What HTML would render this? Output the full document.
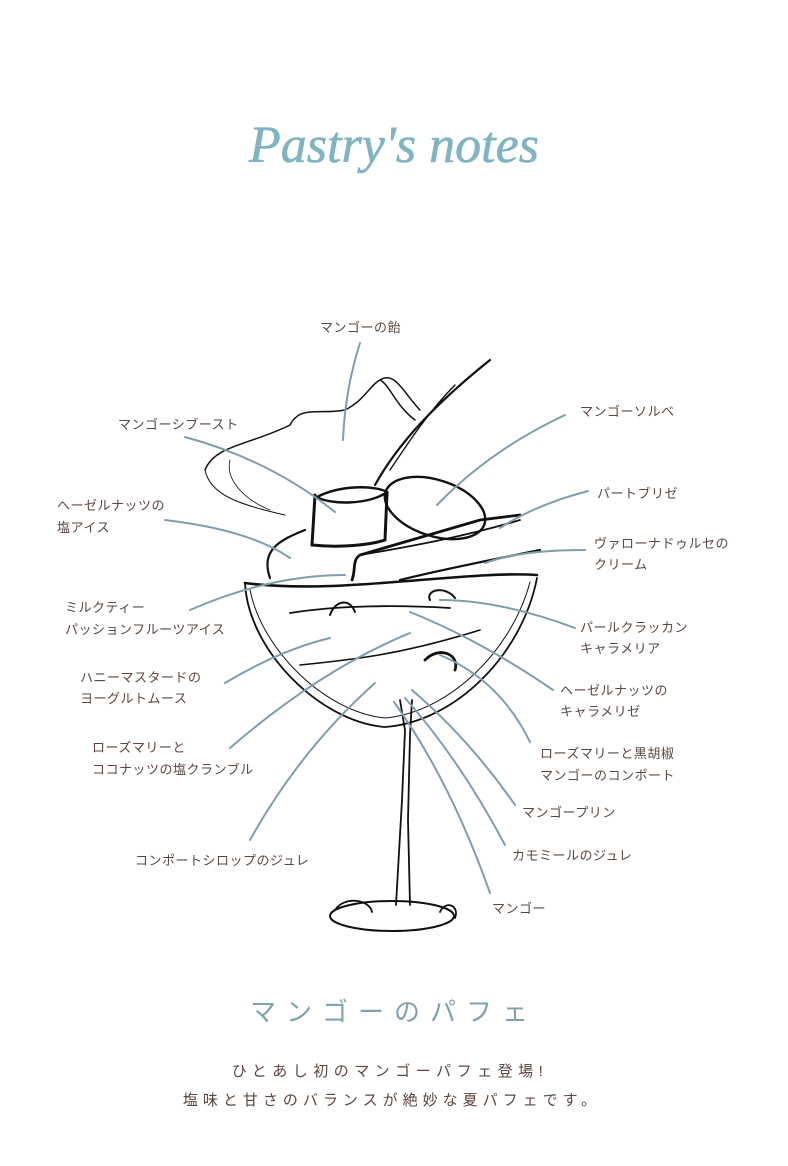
<!DOCTYPE html>
<html><head><meta charset="utf-8"><style>
html,body{margin:0;padding:0;background:#fff;}
body{width:788px;height:1166px;position:relative;overflow:hidden;font-family:"Liberation Sans","Noto Sans CJK JP",sans-serif;}
svg{position:absolute;left:0;top:0;}
.t{font-family:"Liberation Sans","Noto Sans CJK JP",sans-serif;font-size:13px;fill:#5a4840;letter-spacing:0.5px;}
</style></head><body>
<svg width="788" height="1166" viewBox="0 0 788 1166">
<text x="394" y="162" text-anchor="middle" font-family="'Liberation Serif',serif" font-style="italic" font-size="52" fill="#80b4c0" stroke="#80b4c0" stroke-width="0.6">Pastry's notes</text>

<!-- sketch -->
<g fill="none" stroke="#111" stroke-linecap="round">
<path d="M245,583 C248,650 320,722 385,727 C455,722 522,655 537,578" stroke-width="1.8"/>
<path d="M250,590 C262,650 325,712 385,718 C450,712 512,650 530,582" stroke-width="1"/>
<path d="M245,583 C300,590 360,585 420,580 C470,576 510,573 537,575" stroke-width="2.6"/>
<path d="M290,613 C340,605 400,605 450,608" stroke-width="1.8"/>
<path d="M300,665 C350,660 400,655 480,630" stroke-width="1.6"/>
<path d="M315,495 L312,545 C340,548 370,545 385,540 L387,493" stroke-width="3"/>
<path d="M317,497 C340,485 375,485 387,492 C370,505 330,505 317,497" stroke-width="2.4"/>
<ellipse cx="435" cy="508" rx="52" ry="28" transform="rotate(18 435 508)" stroke-width="2.4"/>
<path d="M352,580 C356,570 352,560 360,555 L480,520 L520,515" stroke-width="2.8"/>
<path d="M360,555 C420,545 470,535 520,520" stroke-width="1.8"/>
<path d="M400,580 C440,570 490,560 540,550" stroke-width="2.2"/>
<path d="M270,578 C260,550 280,540 305,530" stroke-width="2.2"/>
<path d="M205,470 C215,445 250,445 290,425 C300,405 320,415 345,410 C365,400 370,385 380,380 C390,385 395,405 415,420" stroke-width="1.5"/>
<path d="M205,470 C210,495 240,505 285,515" stroke-width="1"/>
<path d="M230,460 C225,480 245,500 270,510" stroke-width="0.8"/>
<path d="M380,380 C395,370 405,395 420,410" stroke-width="1.5"/>
<path d="M375,485 C400,440 440,400 490,360" stroke-width="2.2"/>
<path d="M390,470 C410,440 430,410 455,385" stroke-width="1.4"/>
<path d="M400,700 L405,730 L402,800 L396,905" stroke-width="1.8"/>
<path d="M412,700 L410,735 L408,820 L410,905" stroke-width="1.8"/>
<ellipse cx="392" cy="916" rx="62" ry="15" stroke-width="2"/>
<path d="M335,910 C345,895 370,900 372,912" stroke-width="1.8"/>
<path d="M440,912 C445,900 460,905 455,918" stroke-width="1.8"/>
<path d="M425,660 C440,645 460,655 455,670" stroke-width="2.8"/>
<path d="M430,600 C425,590 445,585 455,598" stroke-width="2"/>
<path d="M330,615 C335,600 350,598 355,612" stroke-width="2"/>
</g>

<!-- leader lines -->
<g fill="none" stroke="#7f9eab" stroke-width="2" stroke-linecap="round">
<path d="M360,343 Q345,390 343,440"/>
<path d="M185,437 Q270,460 335,512"/>
<path d="M165,520 Q250,530 290,558"/>
<path d="M190,610 Q270,575 345,575"/>
<path d="M225,683 Q280,650 330,638"/>
<path d="M230,748 Q320,670 410,633"/>
<path d="M250,840 Q300,750 375,683"/>
<path d="M565,415 Q490,450 437,505"/>
<path d="M588,491 Q535,505 500,528"/>
<path d="M585,550 Q520,550 485,563"/>
<path d="M575,628 Q500,600 440,600"/>
<path d="M553,690 Q480,640 410,612"/>
<path d="M530,742 Q500,680 440,655"/>
<path d="M515,805 Q470,740 412,690"/>
<path d="M505,845 Q460,760 405,698"/>
<path d="M490,893 Q450,780 394,702"/>
</g>

<text class="t" x="320" y="332">マンゴーの飴</text>
<text class="t" x="118" y="429">マンゴーシブースト</text>
<text class="t" x="57" y="510">ヘーゼルナッツの</text>
<text class="t" x="57" y="532">塩アイス</text>
<text class="t" x="65" y="612">ミルクティー</text>
<text class="t" x="65" y="634">パッションフルーツアイス</text>
<text class="t" x="80" y="682">ハニーマスタードの</text>
<text class="t" x="80" y="703">ヨーグルトムース</text>
<text class="t" x="92" y="752">ローズマリーと</text>
<text class="t" x="92" y="774">ココナッツの塩クランブル</text>
<text class="t" x="135" y="865">コンポートシロップのジュレ</text>
<text class="t" x="580" y="416">マンゴーソルベ</text>
<text class="t" x="597" y="498">パートブリゼ</text>
<text class="t" x="594" y="548">ヴァローナドゥルセの</text>
<text class="t" x="594" y="569">クリーム</text>
<text class="t" x="580" y="632">パールクラッカン</text>
<text class="t" x="580" y="653">キャラメリア</text>
<text class="t" x="560" y="695">ヘーゼルナッツの</text>
<text class="t" x="560" y="716">キャラメリゼ</text>
<text class="t" x="540" y="758">ローズマリーと黒胡椒</text>
<text class="t" x="540" y="780">マンゴーのコンポート</text>
<text class="t" x="522" y="817">マンゴープリン</text>
<text class="t" x="512" y="860">カモミールのジュレ</text>
<text class="t" x="492" y="913">マンゴー</text>

<text x="394" y="1021" text-anchor="middle" font-family="'Liberation Sans','Noto Sans CJK JP',sans-serif" font-size="26" fill="#7fa3ad" letter-spacing="10">マンゴーのパフェ</text>
<text x="390" y="1076" text-anchor="middle" font-family="'Liberation Sans','Noto Sans CJK JP',sans-serif" font-size="15" fill="#5a4840" letter-spacing="5.5">ひとあし初のマンゴーパフェ登場!</text>
<text x="392" y="1105" text-anchor="middle" font-family="'Liberation Sans','Noto Sans CJK JP',sans-serif" font-size="15" fill="#5a4840" letter-spacing="5">塩味と甘さのバランスが絶妙な夏パフェです。</text>
</svg>
</body></html>
